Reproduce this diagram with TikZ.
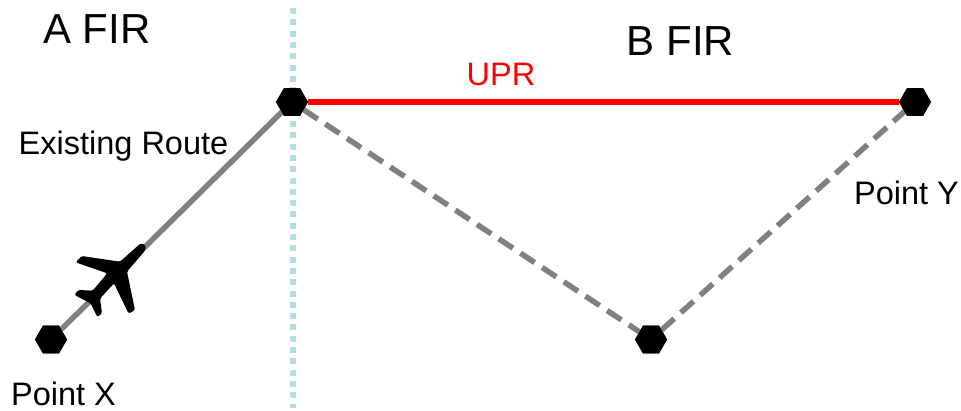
\documentclass[tikz,border=0pt]{standalone}
\usepackage{fontspec}
\setmainfont{Liberation Sans}
\usetikzlibrary{shapes.geometric}
\definecolor{firblue}{HTML}{B4DDE3}
\definecolor{routegray}{HTML}{808080}
\tikzset{
  wpt/.style={regular polygon,regular polygon sides=6,shape border rotate=0,fill=black,draw=none,minimum size=32pt,inner sep=0pt,outer sep=0pt},
  lbl/.style={inner sep=0pt,outer sep=0pt,anchor=base,font=\fontsize{32.5pt}{36pt}\selectfont},
  firlbl/.style={inner sep=0pt,outer sep=0pt,anchor=base,font=\fontsize{42pt}{46pt}\selectfont},
  existing/.style={draw=routegray,line width=5.5pt},
  dashroute/.style={draw=routegray,line width=5.5pt,dash pattern=on 17pt off 9pt},
  upr/.style={draw=red,line width=5.5pt},
  firline/.style={draw=firblue,line width=6pt,dash pattern=on 6pt off 5.3pt}
}
\begin{document}
\begin{tikzpicture}[x=1pt,y=-1pt]
\useasboundingbox (0,0) rectangle (961,410);
\coordinate (fa) at (293,8);
\coordinate (fb) at (293,408);
\draw[firline] (fa) -- (fb);
\node[wpt] (x) at (51,339.5) {};
\node[wpt] (top) at (292,102) {};
\node[wpt] (y) at (915,102) {};
\node[wpt] (bot) at (651,339.5) {};
\draw[existing] (x) -- (top);
\draw[upr] (top) -- (y);
\draw[dashroute] (top) -- (bot);
\draw[dashroute] (bot) -- (y);
\node[wpt] at (x) {};
\node[wpt] at (top) {};
\node[wpt] at (y) {};
\node[wpt] at (bot) {};
\begin{scope}[shift={(30,220)},x=0.3333pt,y=-0.3333pt]
\fill[black,rounded corners=1.5pt] (347,76) -- (332,70) -- (270,125) -- (155,108) -- (137,127) -- (232,160) -- (188,212) -- (145,210) -- (133,225) -- (182,250) -- (202,291) -- (216,280) -- (210,236) -- (252,190) -- (296,281) -- (315,270) -- (291,155) -- (345,92) -- cycle;
\end{scope}
\node[firlbl] (afir) at (97,43) {A FIR};
\node[firlbl] (bfir) at (680.5,55) {B FIR};
\node[lbl,text=red] (uprl) at (501,85) {UPR};
\node[lbl] (ex) at (123.5,154) {Existing Route};
\node[lbl] (py) at (906.5,204) {Point Y};
\node[lbl] (px) at (63.5,405) {Point X};
\end{tikzpicture}
\end{document}
